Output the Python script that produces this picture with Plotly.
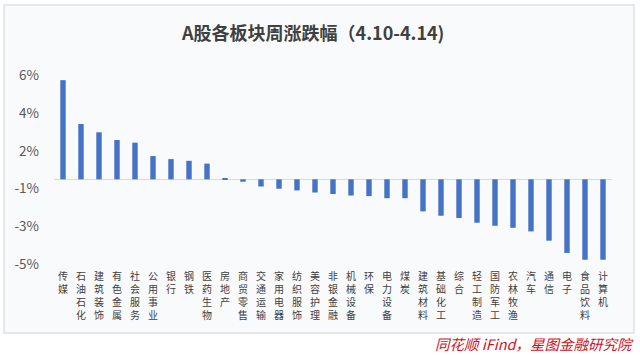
import plotly.graph_objects as go

categories = ["传媒", "石油石化", "建筑装饰", "有色金属", "社会服务", "公用事业", "银行", "钢铁",
              "医药生物", "房地产", "商贸零售", "交通运输", "家用电器", "纺织服饰", "美容护理",
              "非银金融", "机械设备", "环保", "电力设备", "煤炭", "建筑材料", "基础化工", "综合",
              "轻工制造", "国防军工", "农林牧渔", "汽车", "通信", "电子", "食品饮料", "计算机"]
values = [5.25, 2.93, 2.49, 2.08, 1.94, 1.23, 1.07, 0.98, 0.83, 0.05, -0.13, -0.38, -0.50,
          -0.59, -0.70, -0.78, -0.86, -0.89, -1.00, -1.00, -1.70, -1.93, -2.05, -2.30, -2.46,
          -2.57, -2.76, -3.25, -3.90, -4.26, -4.26]
tick_vals = [5.5, 3.5, 1.5, -0.5, -2.5, -4.5]
tick_text = ["6%", "4%", "2%", "-1%", "-3%", "-5%"]
title_text = "A股各板块周涨跌幅（4.10-4.14)"
source_text = "同花顺 iFind，星图金融研究院"

W, H = 640, 355
ML, MR, MT, MB = 54, 28, 66, 86
PW, PH = W - ML - MR, H - MT - MB
FONT = "Noto Sans CJK SC"


def px(x):
    return (x - ML) / PW


def py(y):
    return (H - MB - y) / PH


fig = go.Figure()
fig.add_trace(go.Bar(
    x=categories, y=values, marker=dict(color="#4472C4", line=dict(width=0)),
    hoverinfo="x+y",
))

fig.update_layout(
    width=W, height=H,
    margin=dict(l=ML, r=MR, t=MT, b=MB, pad=0),
    paper_bgcolor="white",
    plot_bgcolor="rgba(0,0,0,0)",
    bargap=0.70,
    showlegend=False,
    font=dict(family=FONT, color="#595959"),
    xaxis=dict(
        tickmode="array",
        tickvals=categories,
        ticktext=["<br>".join(list(c)) for c in categories],
        tickfont=dict(size=10, color="#404040", family=FONT),
        showgrid=False, showline=False, zeroline=False, ticks="",
        tickangle=0, automargin=False,
    ),
    yaxis=dict(
        range=[-4.75, 6.0],
        tickmode="array", tickvals=tick_vals, ticktext=tick_text,
        tickfont=dict(size=13.5, color="#595959", family=FONT),
        showgrid=False, showline=False,
        zeroline=True, zerolinecolor="#d9d9d9", zerolinewidth=1,
        ticks="", ticklabelstandoff=14, automargin=False,
    ),
    shapes=[
        dict(type="rect", xref="paper", yref="paper", layer="below",
             x0=px(4), x1=px(634), y0=py(333), y1=py(5),
             fillcolor="#f9fafc", line=dict(width=0)),
        dict(type="rect", xref="paper", yref="paper", layer="above",
             x0=px(4), x1=px(634), y0=py(333), y1=py(5),
             fillcolor="rgba(0,0,0,0)", line=dict(color="#dfe1e5", width=1.5)),
    ],
    annotations=[
        dict(text="<b>" + title_text + "</b>", xref="paper", yref="paper",
             x=px(312), y=py(32),
             xanchor="center", yanchor="middle", showarrow=False,
             font=dict(size=18, color="#404040", family=FONT)),
        dict(text="<i>" + source_text + "</i>", xref="paper", yref="paper",
             x=px(636), y=py(343),
             xanchor="right", yanchor="middle", showarrow=False,
             font=dict(size=14.5, color="#d0101e", family=FONT)),
    ],
)

fig.write_html(
    "out.html",
    config={"displayModeBar": False},
    post_script="document.body.style.margin='0';document.body.style.padding='0';"
                "document.documentElement.style.overflow='hidden';",
)
